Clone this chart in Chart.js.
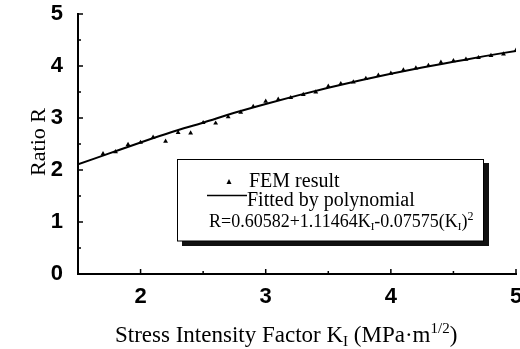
<!DOCTYPE html>
<html><head><meta charset="utf-8">
<script src="https://cdn.jsdelivr.net/npm/chart.js@4/dist/chart.umd.min.js"></script>
<style>html,body{margin:0;padding:0;background:#fff;}</style>
</head><body>
<canvas id="c" width="520" height="349" style="display:block;width:520px;height:349px"></canvas>
<script>
// ---- data ----
const femK = [1.7,1.8,1.9,2.0,2.1,2.2,2.3,2.4,2.5,2.6,2.7,2.8,2.9,3.0,3.1,3.2,3.3,3.4,3.5,3.6,3.7,3.8,3.9,4.0,4.1,4.2,4.3,4.4,4.5,4.6,4.7,4.8,4.9,5.0];
const femR = [2.31,2.35,2.49,2.53,2.63,2.55,2.72,2.71,2.91,2.90,3.02,3.11,3.22,3.32,3.36,3.39,3.45,3.50,3.61,3.66,3.69,3.76,3.82,3.86,3.92,3.96,4.01,4.07,4.10,4.13,4.16,4.20,4.23,4.30];
const fitK = [1.5,1.75,2.0,2.25,2.5,2.75,3.0,3.25,3.5,3.75,4.0,4.25,4.5,4.75,5.0];
const fitR = [2.11,2.32,2.53,2.73,2.91,3.10,3.27,3.43,3.58,3.72,3.85,3.97,4.08,4.19,4.29];
const xMajor = [2,3,4,5];
const xMinor = [2.5,3.5,4.5];
const yMajor = [0,1,2,3,4,5];
const yMinor = [0.5,1.5,2.5,3.5,4.5];
const legendFEM = 'FEM result';
const legendFit = 'Fitted by polynomial';
const yTitle = 'Ratio R';

const SERIF = '"Liberation Serif", "Times New Roman", serif';
const SANS = '"Liberation Sans", Arial, sans-serif';

function richText(ctx, x, y, parts) {
  for (const [t, size, dy] of parts) {
    ctx.font = size + 'px ' + SERIF;
    ctx.fillText(t, x, y + dy);
    x += ctx.measureText(t).width;
  }
  return x;
}

const decor = {
  id: 'decor',
  afterDraw(chart) {
    const ctx = chart.ctx;
    const xs = chart.scales.x, ys = chart.scales.y;
    const ca = chart.chartArea;
    ctx.save();
    ctx.strokeStyle = '#000';
    ctx.fillStyle = '#000';
    // inward tick marks
    ctx.lineWidth = 1.5;
    ctx.beginPath();
    for (const v of xMajor) { const p = xs.getPixelForValue(v); ctx.moveTo(p, ca.bottom); ctx.lineTo(p, ca.bottom - 5); }
    for (const v of xMinor) { const p = xs.getPixelForValue(v); ctx.moveTo(p, ca.bottom); ctx.lineTo(p, ca.bottom - 3); }
    for (const v of yMajor) { const p = ys.getPixelForValue(v); ctx.moveTo(ca.left, p); ctx.lineTo(ca.left + 5, p); }
    for (const v of yMinor) { const p = ys.getPixelForValue(v); ctx.moveTo(ca.left, p); ctx.lineTo(ca.left + 3, p); }
    ctx.stroke();

    // y title
    ctx.save();
    ctx.translate(45, 142);
    ctx.rotate(-Math.PI / 2);
    ctx.textAlign = 'center';
    ctx.textBaseline = 'alphabetic';
    ctx.font = '22px ' + SERIF;
    ctx.fillText(yTitle, 0, 0);
    ctx.restore();

    // x title
    ctx.textAlign = 'left';
    ctx.textBaseline = 'alphabetic';
    richText(ctx, 115, 342, [
      ['Stress Intensity Factor K', 23, 0],
      ['I', 15, 4],
      [' (MPa\u00B7m', 23, 0],
      ['1/2', 15, -9],
      [')', 23, 0]
    ]);

    // legend box with shadow
    ctx.fillStyle = '#111';
    ctx.fillRect(182, 241, 307, 5);
    ctx.fillRect(484, 163, 5, 83);
    ctx.fillStyle = '#fff';
    ctx.fillRect(177, 159, 307, 82);
    ctx.strokeStyle = '#000';
    ctx.lineWidth = 1;
    ctx.strokeRect(177.5, 159.5, 306, 81.5);

    ctx.fillStyle = '#000';
    ctx.beginPath();
    ctx.moveTo(229, 179); ctx.lineTo(231.5, 184); ctx.lineTo(226.5, 184); ctx.closePath(); ctx.fill();
    ctx.font = '20px ' + SERIF;
    ctx.fillText(legendFEM, 249, 187);
    ctx.lineWidth = 1.5;
    ctx.beginPath(); ctx.moveTo(207, 195.5); ctx.lineTo(247, 195.5); ctx.stroke();
    ctx.fillText(legendFit, 247, 206);
    richText(ctx, 209, 227, [
      ['R=0.60582+1.11464K', 18, 0],
      ['I', 11, 3],
      ['-0.07575(K', 18, 0],
      ['I', 11, 3],
      [')', 18, 0],
      ['2', 12, -7]
    ]);
    ctx.restore();
  }
};

new Chart(document.getElementById('c'), {
  type: 'scatter',
  data: {
    datasets: [
      {
        label: legendFit,
        type: 'line',
        data: fitK.map((k, i) => ({ x: k, y: fitR[i] })),
        borderColor: '#000',
        borderWidth: 2,
        pointRadius: 0,
        cubicInterpolationMode: 'monotone',
        fill: false,
        order: 2
      },
      {
        label: legendFEM,
        data: femK.map((k, i) => ({ x: k, y: femR[i] })),
        pointStyle: 'triangle',
        pointRadius: 2.8,
        backgroundColor: '#000',
        borderColor: '#000',
        borderWidth: 0,
        order: 1
      }
    ]
  },
  options: {
    responsive: false,
    animation: false,
    devicePixelRatio: 1,
    layout: { padding: { top: 14, right: 3, left: 0, bottom: 0 } },
    plugins: { legend: { display: false }, tooltip: { enabled: false } },
    scales: {
      x: {
        type: 'linear', min: 1.5, max: 5,
        grid: { display: false, drawTicks: false },
        border: { display: true, color: '#000', width: 2 },
        afterBuildTicks(s) { s.ticks = xMajor.map(v => ({ value: v })); },
        ticks: { font: { family: SANS, size: 22, weight: 'bold' }, color: '#000', padding: 10, maxRotation: 0, autoSkip: false },
        afterFit(s) { s.height = 75; s.paddingLeft = 0; s.paddingRight = 0; }
      },
      y: {
        type: 'linear', min: 0, max: 5,
        grid: { display: false, drawTicks: false },
        border: { display: true, color: '#000', width: 2 },
        afterBuildTicks(s) { s.ticks = yMajor.map(v => ({ value: v })); },
        ticks: { font: { family: SANS, size: 22, weight: 'bold' }, color: '#000', padding: 15 },
        afterFit(s) { s.width = 78; s.paddingTop = 0; s.paddingBottom = 0; }
      }
    }
  },
  plugins: [decor]
});
</script>
</body></html>
